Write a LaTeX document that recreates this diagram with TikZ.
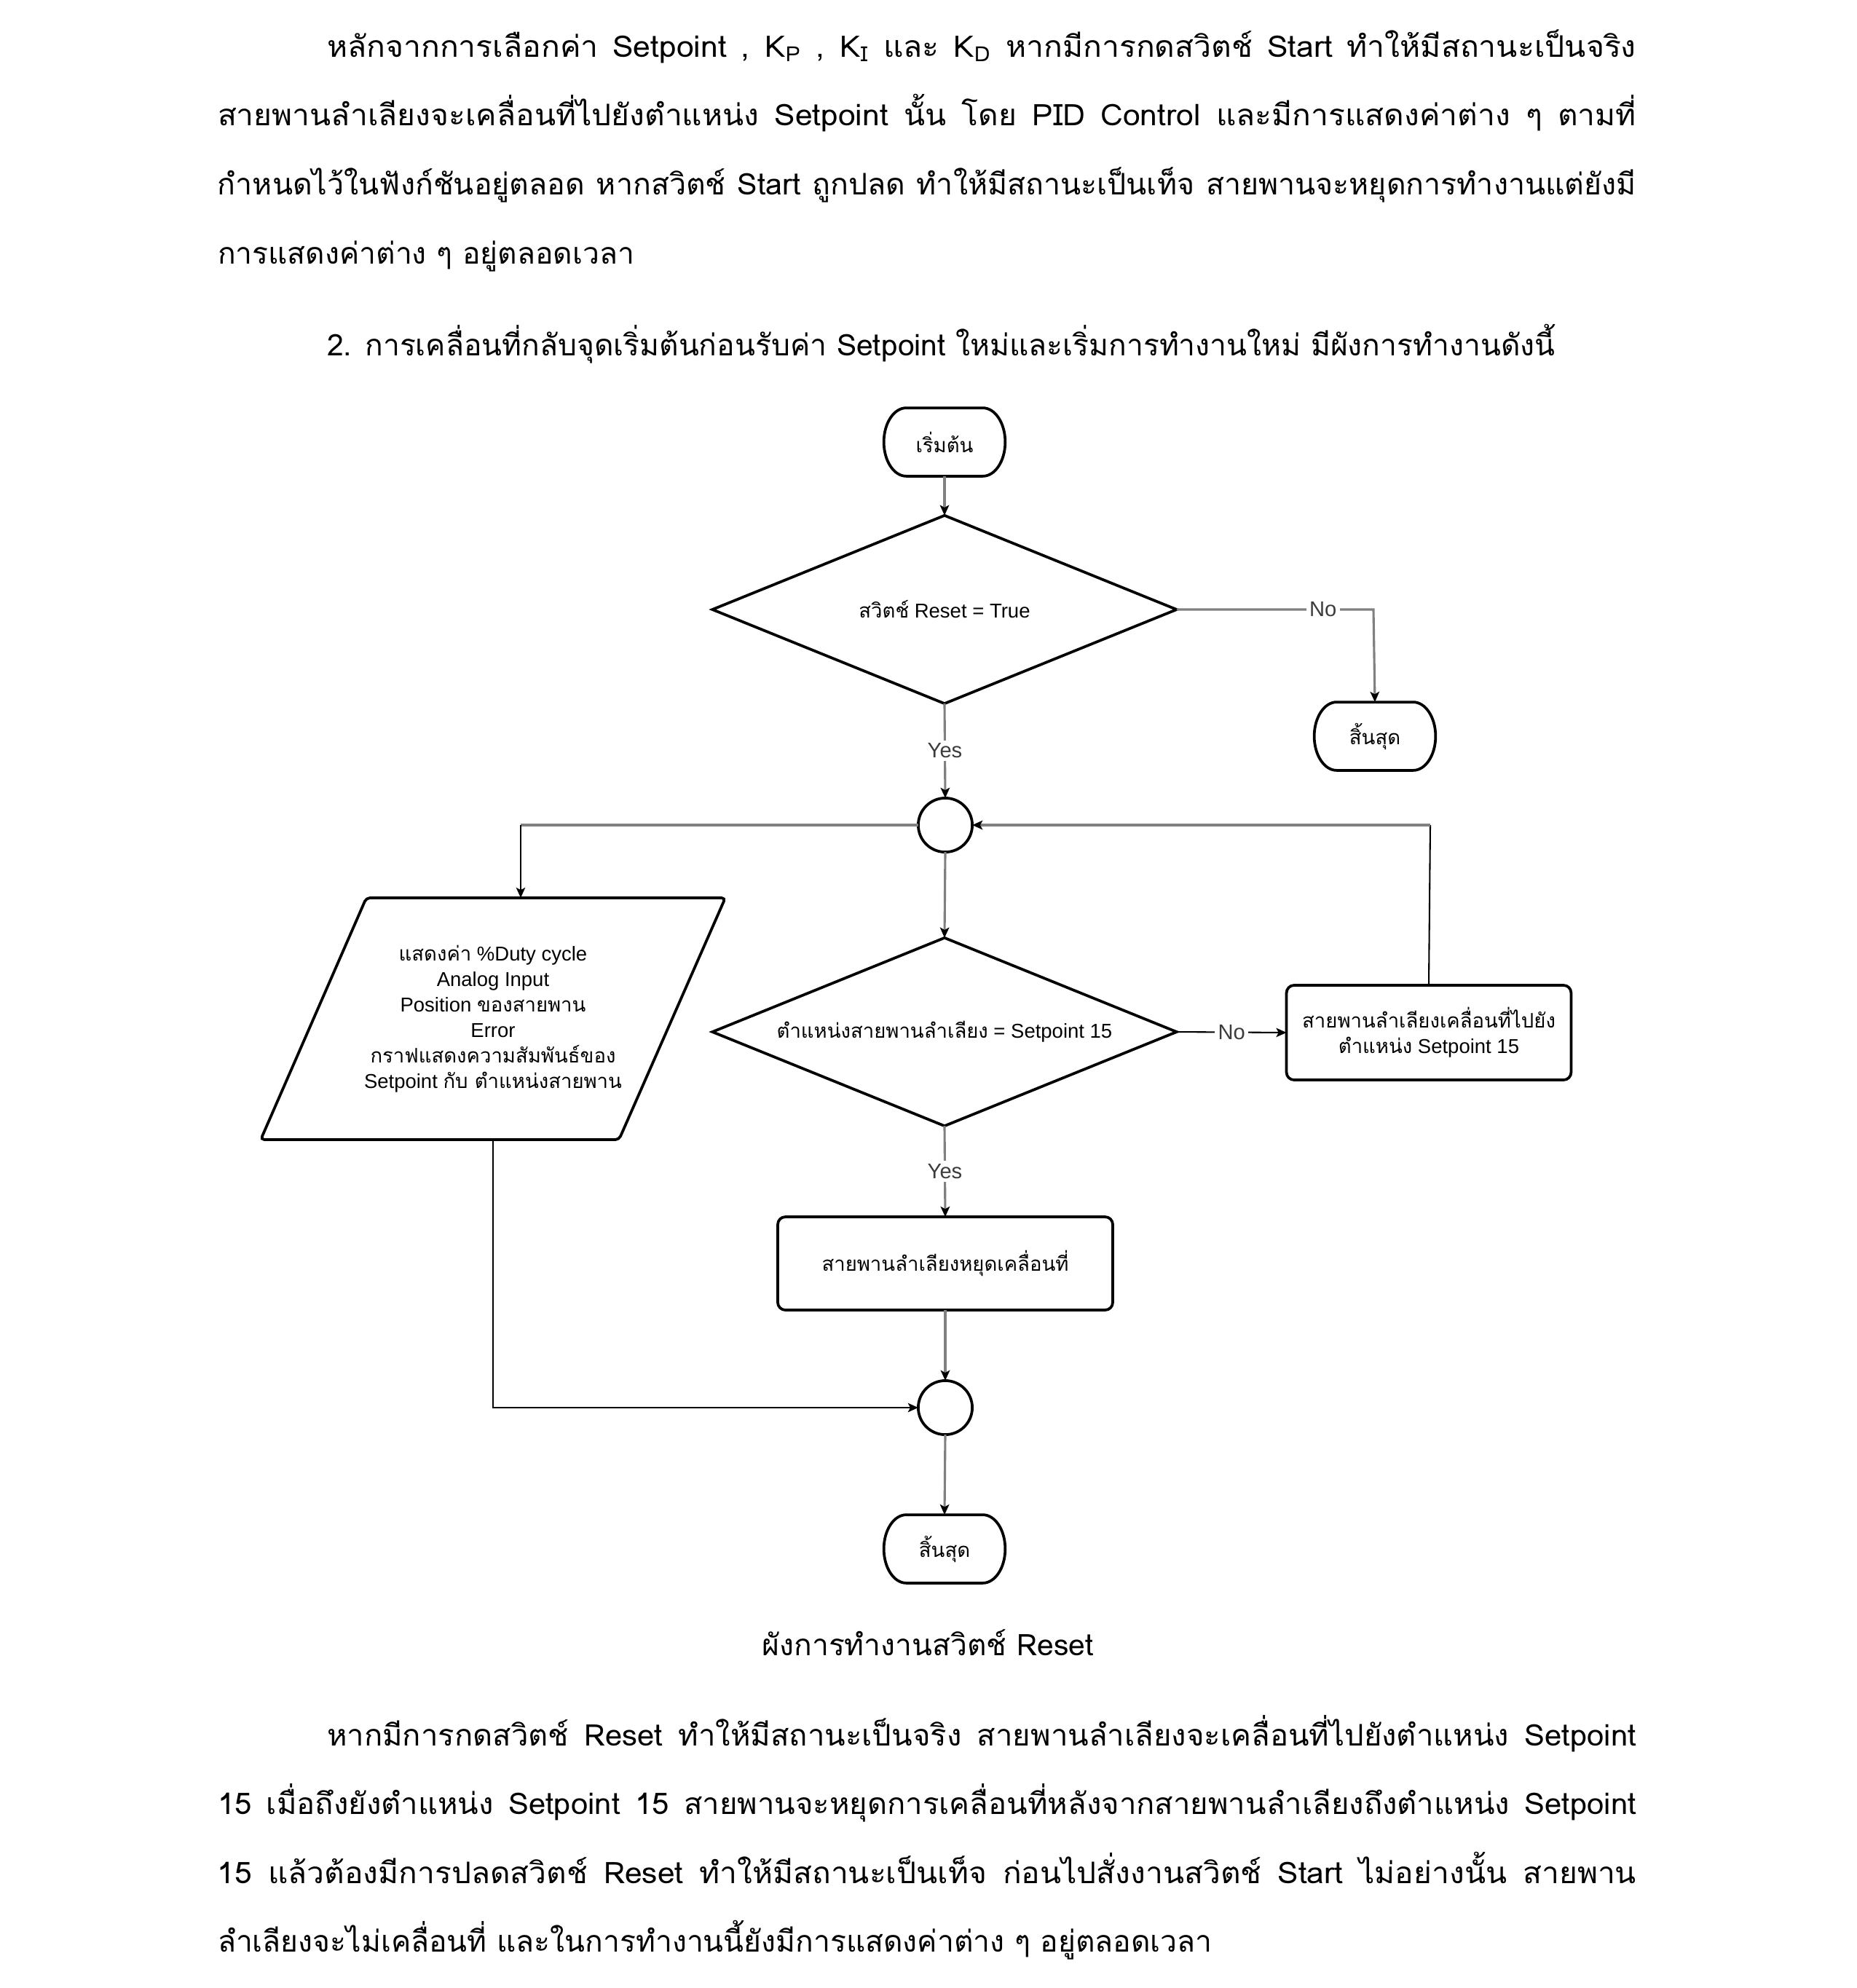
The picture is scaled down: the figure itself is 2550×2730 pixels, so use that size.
\documentclass[tikz,border=0pt]{standalone}
\usepackage{fontspec}
\usepackage{graphicx}
\setmainfont{Liberation Sans}
\newfontfamily\thf[Script=Thai]{Loma}
\usetikzlibrary{shapes.geometric,arrows.meta}
\definecolor{cgray}{RGB}{128,128,128}
\definecolor{ltxt}{RGB}{60,60,60}
\newlength\jlen
\newcommand\jline[2]{\settowidth\jlen{#2}\ifdim\jlen<#1\relax
  \jlen=\dimexpr\jlen+(#1-\jlen)*2/5\relax
  \resizebox{#1}{\height}{\makebox[\jlen][s]{#2}}\else\resizebox{#1}{\height}{#2}\fi}
\newcommand\bodyfont{\thf\fontsize{9.8}{12}\selectfont}
\newcommand\T[1]{{\thf #1}}
\newcommand\terminal[3]{%
  \node[termnode] (#1) at (#2) {#3};
  \draw[shapeline] ([xshift=7.4pt]#1.north west) -- ([xshift=-7.4pt]#1.north east)
    arc[start angle=90,end angle=-90,x radius=7.4pt,y radius=11.25pt]
    -- ([xshift=7.4pt]#1.south west)
    arc[start angle=270,end angle=90,x radius=7.4pt,y radius=11.25pt] -- cycle;}
\begin{document}
\begin{tikzpicture}[x=0.24pt,y=-0.24pt,
  body/.style={inner sep=0pt,outer sep=0pt,font=\bodyfont},
  shapeline/.style={draw=black,line width=0.9pt},
  fc/.style={font=\fontsize{6.6}{8.4}\selectfont,align=center,inner sep=0pt,outer sep=0pt},
  termnode/.style={fc,minimum width=40pt,minimum height=22.5pt},
  dia/.style={fc,diamond,shapeline,aspect=2.45,minimum width=153pt,minimum height=62pt},
  boxs/.style={fc,rectangle,shapeline,rounded corners=2.5pt},
  circ/.style={circle,shapeline,minimum size=17.8pt,inner sep=0pt,outer sep=0pt},
  tip/.style={-{Stealth[length=3.4pt,width=3pt,inset=0.8pt,color=black]}},
  gline/.style={draw=cgray,line width=0.75pt},
  bline/.style={draw=black,line width=0.5pt},
  lbl/.style={fill=white,inner sep=1pt,text=ltxt,font=\fontsize{7}{8}\selectfont}
]
\useasboundingbox (0,0) rectangle (2550,2730);

% ---------- body text above ----------
\node[body,anchor=base west] (p1a) at (449,78) {\jline{431.5pt}{หลักจากการเลือกค่า Setpoint , K\textsubscript{P} , K\textsubscript{I} และ K\textsubscript{D} หากมีการกดสวิตช์ Start ทำให้มีสถานะเป็นจริง}};
\node[body,anchor=base west] (p1b) at (299,172) {\jline{467.5pt}{สายพานลำเลียงจะเคลื่อนที่ไปยังตำแหน่ง Setpoint นั้น โดย PID Control และมีการแสดงค่าต่าง ๆ ตามที่}};
\node[body,anchor=base west] (p1c) at (299,267) {\jline{467.5pt}{กำหนดไว้ในฟังก์ชันอยู่ตลอด หากสวิตช์ Start ถูกปลด ทำให้มีสถานะเป็นเท็จ สายพานจะหยุดการทำงานแต่ยังมี}};
\node[body,anchor=base west] (p1d) at (299,362) {การแสดงค่าต่าง ๆ อยู่ตลอดเวลา};
\node[body,anchor=base west] (h2) at (449,488) {2. การเคลื่อนที่กลับจุดเริ่มต้นก่อนรับค่า Setpoint ใหม่และเริ่มการทำงานใหม่ มีผังการทำงานดังนี้};

% ---------- flowchart ----------
\terminal{start}{1297,607}{\T{เริ่มต้น}}
\node[dia] (d1) at (1297,837) {\T{สวิตช์} Reset = True};
\terminal{end1}{1888,1011}{\T{สิ้นสุด}}
\node[circ] (c1) at (1298,1133) {};
\draw[shapeline,rounded corners=1.2pt] (503,1233) -- (996,1233) -- (850,1565) -- (358,1565) -- cycle;
\node[fc] (para) at (677,1399) {\T{แสดงค่า} \%Duty cycle\\Analog Input\\Position \T{ของสายพาน}\\Error\\\T{กราฟแสดงความสัมพันธ์ของ}\\Setpoint \T{กับ ตำแหน่งสายพาน}};
\coordinate (paratop) at (715,1233);
\coordinate (parabot) at (677,1565);
\node[dia] (d2) at (1297,1417) {\T{ตำแหน่งสายพานลำเลียง} = Setpoint 15};
\node[boxs,minimum width=93.8pt,minimum height=31.2pt] (bR) at (1962,1418) {\T{สายพานลำเลียงเคลื่อนที่ไปยัง}\\\T{ตำแหน่ง} Setpoint 15};
\node[boxs,minimum width=110.4pt,minimum height=30.7pt] (b3) at (1298,1735) {\T{สายพานลำเลียงหยุดเคลื่อนที่}};
\node[circ] (c2) at (1298,1933) {};
\terminal{end2}{1297,2127}{\T{สิ้นสุด}}

\coordinate (k1) at (1886,837);
\coordinate (k2) at (715,1133);
\coordinate (k3) at (1964,1133);
\coordinate (k4) at (677,1933);

\draw[gline,tip] (start) -- (d1);
\draw[gline,tip] (d1.east) -- node[lbl,pos=0.744]{No} (k1) -- (end1.north);
\draw[gline,tip] (d1.south) -- node[lbl]{Yes} (c1.north);
\draw[gline] (c1.west) -- (k2);
\draw[bline,tip] (k2) -- (paratop);
\draw[gline,tip] (c1.south) -- (d2.north);
\draw[bline,tip] (d2.east) -- node[lbl]{No} (bR.west);
\draw[bline] (bR.north) -- (k3);
\draw[gline,tip] (k3) -- (c1.east);
\draw[gline,tip] (d2.south) -- node[lbl]{Yes} (b3.north);
\draw[gline,tip] (b3.south) -- (c2.north);
\draw[bline,tip] (parabot) -- (k4) -- (c2.west);
\draw[gline,tip] (c2.south) -- (end2.north);

% ---------- caption and body text below ----------
\node[body,anchor=base] (cap) at (1274,2273) {ผังการทำงานสวิตช์ Reset};
\node[body,anchor=base west] (p2a) at (449,2397) {\jline{431.5pt}{หากมีการกดสวิตช์ Reset ทำให้มีสถานะเป็นจริง สายพานลำเลียงจะเคลื่อนที่ไปยังตำแหน่ง Setpoint}};
\node[body,anchor=base west] (p2b) at (299,2491) {\jline{467.5pt}{15 เมื่อถึงยังตำแหน่ง Setpoint 15 สายพานจะหยุดการเคลื่อนที่หลังจากสายพานลำเลียงถึงตำแหน่ง Setpoint}};
\node[body,anchor=base west] (p2c) at (299,2586) {\jline{467.5pt}{15 แล้วต้องมีการปลดสวิตช์ Reset ทำให้มีสถานะเป็นเท็จ ก่อนไปสั่งงานสวิตช์ Start ไม่อย่างนั้น สายพาน}};
\node[body,anchor=base west] (p2d) at (299,2680) {ลำเลียงจะไม่เคลื่อนที่ และในการทำงานนี้ยังมีการแสดงค่าต่าง ๆ อยู่ตลอดเวลา};
\end{tikzpicture}
\end{document}
